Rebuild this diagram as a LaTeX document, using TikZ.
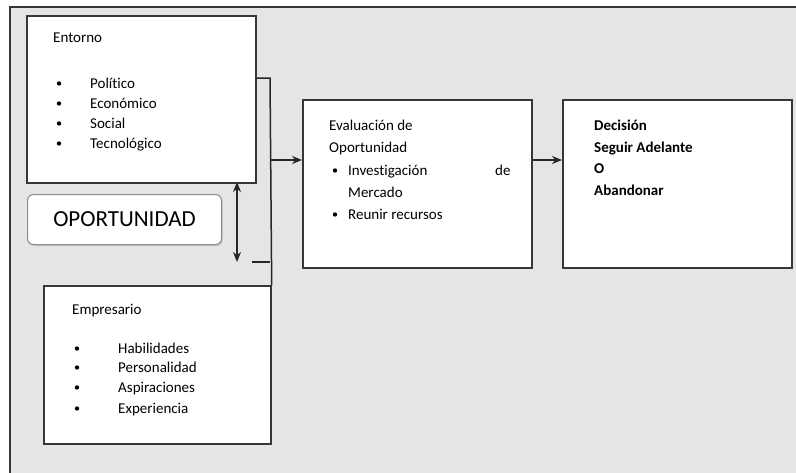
\documentclass[tikz,border=0pt]{standalone}
\usepackage{fontspec}
\setmainfont{Carlito}[RawFeature=-liga]
\usetikzlibrary{arrows.meta,shadows}
\definecolor{framegrey}{RGB}{228,229,231}
\definecolor{linegrey}{RGB}{55,55,55}
\begin{document}
\begin{tikzpicture}[x=1pt,y=-1pt,
  panel/.style={draw=linegrey,line width=1.7pt,fill=white,inner sep=0pt,anchor=north west},
  txt/.style={anchor=base west,inner sep=0pt,font=\fontsize{15}{18}\selectfont},
  btxt/.style={txt,font=\fontsize{15}{18}\selectfont\bfseries},
  dot/.style={circle,fill=black,inner sep=0pt,minimum size=4.4pt},
  link/.style={draw=black!85,line width=1.5pt},
  tip/.style={-{Stealth[length=10pt,width=8pt]}}]
\useasboundingbox (0,0) rectangle (796,472);
% grey frame behind everything
\fill[white] (0,0) rectangle (796,472);
\filldraw[fill=framegrey,draw=linegrey,line width=2.2pt] (10,7) rectangle (810,490);

% boxes
\node[panel,minimum width=229pt,minimum height=167pt] (ent) at (26,15) {};
\node[panel,minimum width=227pt,minimum height=158pt] (emp) at (43,285) {};
\node[panel,minimum width=229pt,minimum height=168pt] (eva) at (302,99) {};
\node[panel,minimum width=229pt,minimum height=168pt] (dec) at (562,99) {};
\node[draw=black!45,line width=1pt,fill=white,rounded corners=6pt,
      minimum width=194pt,minimum height=50pt,inner sep=0pt,anchor=north west,
      drop shadow={opacity=0.35,shadow xshift=1pt,shadow yshift=-1.5pt},
      font=\fontsize{23}{26}\selectfont] (opo) at (27,194) {OPORTUNIDAD};

% Entorno
\node[txt] (entT) at (53,42) {Entorno};
\foreach \y/\w [count=\i] in {88/Político,108/Económico,128/Social,148/Tecnológico}{
  \node[dot] (entD\i) at (59,\y-4.5) {};
  \node[txt] (entI\i) at (90,\y) {\w};
}

% Empresario
\node[txt] (empT) at (72,314) {Empresario};
\foreach \y/\w [count=\i] in {353/Habilidades,372/Personalidad,392/Aspiraciones,413/Experiencia}{
  \node[dot] (empD\i) at (77,\y-4.5) {};
  \node[txt] (empI\i) at (118,\y) {\w};
}

% Evaluación
\node[txt] (evaT1) at (329,130) {Evaluación de};
\node[txt] (evaT2) at (329,152) {Oportunidad};
\node[dot] (evaD1) at (335,170.5) {};
\node[txt] (evaI1) at (348,175) {Investigación};
\node[txt] (evaI1b) at (495,175) {de};
\node[txt] (evaI1c) at (348,197) {Mercado};
\node[dot] (evaD2) at (335,214.5) {};
\node[txt] (evaI2) at (348,219) {Reunir recursos};

% Decisión
\node[btxt] (decT1) at (594,130) {Decisión};
\node[btxt] (decT2) at (594,152) {Seguir Adelante};
\node[btxt] (decT3) at (594,173) {O};
\node[btxt] (decT4) at (594,195) {Abandonar};

% connectors
\coordinate (jTop) at (270,78);
\coordinate (jMid) at (270,160);
\coordinate (jLow) at (270,262);
\coordinate (stub) at (252,262);
\coordinate (dTop) at (237,182);
\coordinate (dBot) at (237,262);
\path[link] (ent.east |- jTop) -- (jTop) -- (emp.north east);
\path[link] (stub) -- (jLow);
\path[link,tip] (jMid) -- (eva.west |- jMid);
\path[link,tip] (eva.east |- jMid) -- (dec.west |- jMid);
\path[link,{Stealth[length=10pt,width=8pt]}-{Stealth[length=10pt,width=8pt]}] (dTop) -- (dBot);
\end{tikzpicture}
\end{document}
